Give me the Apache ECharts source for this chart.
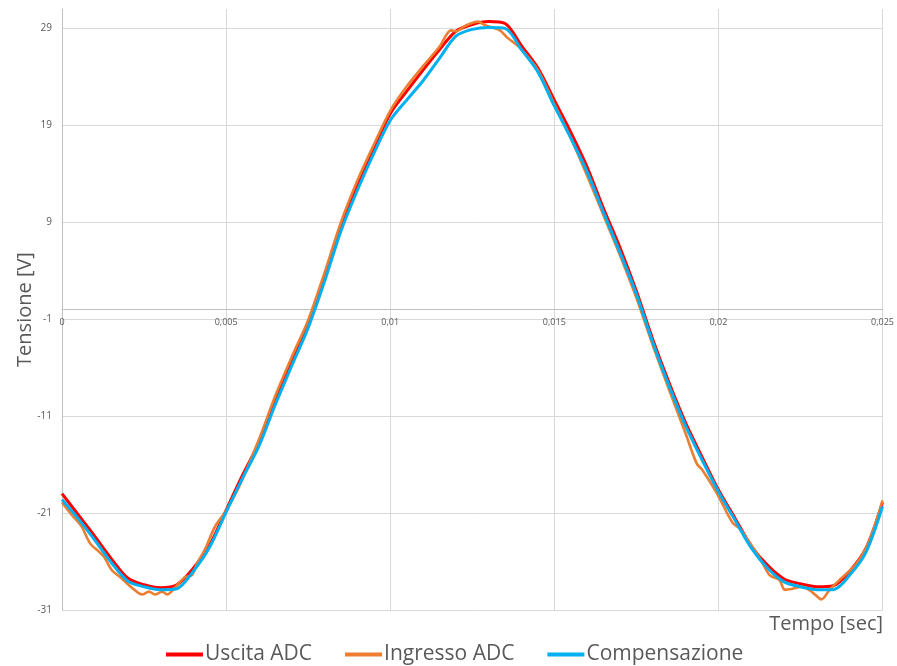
<!DOCTYPE html>
<html>
<head>
<meta charset="utf-8">
<script src="https://cdn.jsdelivr.net/npm/echarts@6/dist/echarts.min.js"></script>
<style>
html,body{margin:0;padding:0;background:#fff;}
#chart{width:897px;height:666px;}
</style>
</head>
<body>
<div id="chart"></div>
<script>
// Shared time axis (s) for "Uscita ADC" and "Compensazione"
const timeSec = [0, 0.0005, 0.001, 0.0015, 0.002, 0.0025, 0.003, 0.0035, 0.004, 0.0045,
  0.005, 0.0055, 0.006, 0.0065, 0.007, 0.0075, 0.008, 0.0085, 0.009, 0.0095,
  0.01, 0.0105, 0.011, 0.0115, 0.012, 0.0125, 0.013, 0.0135, 0.014, 0.0145,
  0.015, 0.0155, 0.016, 0.0165, 0.017, 0.0175, 0.018, 0.0185, 0.019, 0.0195,
  0.02, 0.0205, 0.021, 0.0215, 0.022, 0.0225, 0.023, 0.0235, 0.024, 0.0245, 0.025];

const uscitaADC = [-19.0, -21.2, -23.4, -25.7, -27.7, -28.4, -28.7, -28.4, -26.7, -24.3,
  -20.7, -17.1, -13.7, -9.2, -5.2, -1.4, 3.4, 8.6, 12.8, 16.6,
  20.2, 22.5, 24.7, 26.8, 28.7, 29.4, 29.7, 29.5, 27.2, 24.9,
  21.6, 18.3, 14.7, 10.4, 6.4, 1.9, -3.1, -7.6, -11.7, -15.2,
  -18.6, -21.5, -24.4, -26.4, -27.8, -28.3, -28.6, -28.5, -27.0, -24.6, -19.9];

const compensazione = [-19.6, -21.6, -23.8, -26.1, -28.0, -28.6, -28.9, -28.8, -27.0, -24.5,
  -20.9, -17.4, -14.1, -9.8, -5.8, -1.9, 2.9, 8.1, 12.3, 16.1,
  19.5, 21.6, 23.6, 25.9, 28.2, 28.9, 29.1, 29.0, 26.8, 24.5,
  21.0, 17.7, 14.2, 10.0, 5.9, 1.6, -3.4, -7.9, -12.0, -15.5,
  -18.8, -21.7, -24.6, -26.7, -28.1, -28.6, -28.9, -28.9, -27.4, -25.0, -20.3];

// "Ingresso ADC" has its own (denser) time samples
const ingressoTime = [0, 0.0003, 0.0006, 0.00085, 0.00113, 0.00128, 0.00152, 0.00177, 0.00213, 0.00244,
  0.00265, 0.00283, 0.00305, 0.0032, 0.00344, 0.00375, 0.00396, 0.00411, 0.00435, 0.00466,
  0.00497, 0.00539, 0.006, 0.0065, 0.007, 0.0075, 0.008, 0.0085, 0.009, 0.0095,
  0.01, 0.0105, 0.011, 0.0115, 0.01185, 0.012, 0.01231, 0.01267, 0.01291, 0.01334,
  0.01355, 0.01395, 0.0145, 0.015, 0.0155, 0.016, 0.0165, 0.017, 0.0175, 0.018,
  0.0185, 0.019, 0.01934, 0.01952, 0.01994, 0.02043, 0.02065, 0.02125, 0.02156, 0.02186,
  0.02202, 0.02226, 0.02256, 0.02287, 0.02314, 0.02339, 0.02369, 0.02421, 0.0246, 0.025];

const ingressoADC = [-19.9, -21.2, -22.4, -24.1, -25.0, -25.5, -26.9, -27.6, -28.7, -29.4,
  -29.1, -29.4, -29.1, -29.4, -28.7, -27.6, -27.4, -26.2, -24.8, -22.4,
  -20.9, -18.3, -13.4, -8.9, -4.9, -1.1, 3.8, 9.0, 13.3, 17.0,
  20.5, 23.0, 25.1, 27.1, 28.8, 28.7, 29.3, 29.7, 29.3, 28.8,
  28.1, 27.0, 24.7, 21.2, 17.7, 13.8, 9.7, 5.6, 1.2, -3.7,
  -8.3, -12.8, -15.9, -16.6, -18.9, -22.0, -22.6, -25.6, -27.4, -27.9,
  -28.9, -28.8, -28.6, -29.2, -29.9, -28.9, -27.9, -26.2, -23.8, -19.7];

const seriesNames = ['Uscita ADC', 'Ingresso ADC', 'Compensazione'];
const seriesColors = ['#ff0000', '#ed7d31', '#00b0f0'];
const yAxisTitle = 'Tensione [V]';
const xAxisTitle = 'Tempo [sec]';

const zip = (xs, ys) => xs.map((x, i) => [x, ys[i]]);

const chart = echarts.init(document.getElementById('chart'), null, {renderer: 'canvas'});
const fontFam = '"Open Sans", "DejaVu Sans", sans-serif';

// y range and grid geometry (used only to place the x axis at the y = 0 line)
const yMin = -31, yMax = 31;
const gridTop = 9, gridBottom = 56, chartH = 666;
const plotH = chartH - gridTop - gridBottom;
const zeroOffset = -plotH * (0 - yMin) / (yMax - yMin);

chart.setOption({
  animation: false,
  backgroundColor: '#ffffff',
  grid: {left: 62, right: 14, top: gridTop, bottom: gridBottom, containLabel: false},
  xAxis: {
    type: 'value', min: 0, max: 0.025, interval: 0.005,
    offset: zeroOffset,
    axisLine: {show: true, onZero: false, lineStyle: {color: '#bfbfbf', width: 1}},
    axisTick: {show: false},
    axisLabel: {
      color: '#595959', fontSize: 9, fontFamily: fontFam, margin: 8,
      formatter: v => String(+v.toFixed(4)).replace('.', ',')
    },
    splitLine: {show: true, lineStyle: {color: '#d9d9d9', width: 1}}
  },
  yAxis: {
    type: 'value', min: yMin, max: yMax, interval: 10,
    name: yAxisTitle, nameLocation: 'middle', nameGap: 27, nameRotate: 90, nameMoveOverlap: false,
    nameTextStyle: {color: '#595959', fontSize: 20, fontFamily: fontFam},
    axisLine: {show: true, onZero: false, lineStyle: {color: '#bfbfbf', width: 1}},
    axisTick: {show: false},
    axisLabel: {color: '#595959', fontSize: 10, fontFamily: fontFam, margin: 10, showMaxLabel: false,
      formatter: v => (v === 31 ? '' : String(v))},
    splitLine: {show: true, showMaxLine: false, lineStyle: {color: '#d9d9d9', width: 1}}
  },
  graphic: [{
    type: 'text', right: 14, top: 614,
    style: {text: xAxisTitle, fill: '#595959', fontSize: 20, fontFamily: fontFam, textAlign: 'right'}
  }],
  legend: {
    data: seriesNames, left: 161, top: 639,
    icon: 'rect', itemWidth: 37, itemHeight: 4, itemGap: 33,
    textStyle: {color: '#595959', fontSize: 21, fontFamily: fontFam, padding: [0, 0, 0, -3]}
  },
  series: [
    {name: seriesNames[0], type: 'line', data: zip(timeSec, uscitaADC), symbol: 'none', smooth: 0.3,
      color: seriesColors[0], lineStyle: {width: 3, color: seriesColors[0]}},
    {name: seriesNames[1], type: 'line', data: zip(ingressoTime, ingressoADC), symbol: 'none', smooth: 0.3,
      color: seriesColors[1], lineStyle: {width: 2.6, color: seriesColors[1]}},
    {name: seriesNames[2], type: 'line', data: zip(timeSec, compensazione), symbol: 'none', smooth: 0.3,
      color: seriesColors[2], lineStyle: {width: 3, color: seriesColors[2]}}
  ]
});
</script>
</body>
</html>
